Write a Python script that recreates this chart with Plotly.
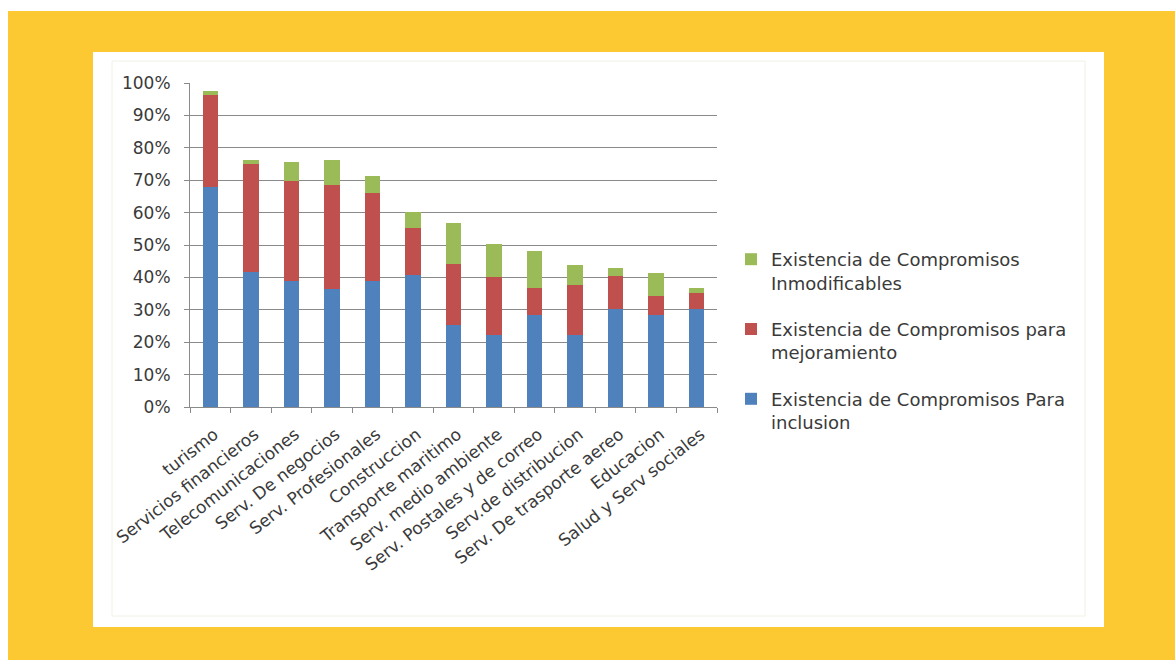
import plotly.graph_objects as go

# Sectors (x-axis categories)
categories = [
    "turismo", "Servicios financieros", "Telecomunicaciones", "Serv. De negocios",
    "Serv. Profesionales", "Construccion", "Transporte maritimo", "Serv. medio ambiente",
    "Serv. Postales y de correo", "Serv.de distribucion", "Serv. De trasporte aereo",
    "Educacion", "Salud y Serv sociales",
]

# Stacked shares (fractions of 1)
inclusion = [0.680, 0.418, 0.390, 0.363, 0.390, 0.407, 0.253, 0.222, 0.284, 0.222, 0.304, 0.284, 0.304]
mejoramiento = [0.284, 0.332, 0.308, 0.323, 0.272, 0.145, 0.188, 0.178, 0.084, 0.156, 0.100, 0.058, 0.049]
inmodificables = [0.012, 0.011, 0.057, 0.075, 0.051, 0.050, 0.126, 0.103, 0.114, 0.059, 0.026, 0.072, 0.013]

series_names = [
    "Existencia de Compromisos Para<br>inclusion",
    "Existencia de Compromisos para<br>mejoramiento",
    "Existencia de Compromisos<br>Inmodificables",
]
series_colors = ["#4F81BD", "#C0504D", "#9BBB59"]
legend_ranks = [3, 2, 1]  # top series listed first

W, H = 1175, 660
L, R, T, B = 190, 717, 83, 407  # plot area in pixels


def px_x(p):
    return (p - L) / (R - L)


def px_y(p):
    return (B - p) / (B - T)


FONT = "DejaVu Sans"
TXT = "#3a3a3a"
GRID = "#8a8a8a"

fig = go.Figure()
for name, vals, col, rank in zip(series_names, [inclusion, mejoramiento, inmodificables],
                                 series_colors, legend_ranks):
    fig.add_trace(go.Bar(
        x=categories, y=vals, name=name, marker=dict(color=col, line=dict(width=0)),
        legendgroup=name, legendrank=rank,
    ))

shapes = [
    # yellow frame
    dict(type="rect", xref="paper", yref="paper", layer="below",
         x0=px_x(8), x1=px_x(W + 5), y0=px_y(H + 5), y1=px_y(11),
         fillcolor="#FDC933", line=dict(width=0)),
    # white panel
    dict(type="rect", xref="paper", yref="paper", layer="below",
         x0=px_x(93), x1=px_x(1104), y0=px_y(627), y1=px_y(52),
         fillcolor="#FFFFFF", line=dict(width=0)),
    # chart area border
    dict(type="rect", xref="paper", yref="paper", layer="below",
         x0=px_x(112), x1=px_x(1085), y0=px_y(616), y1=px_y(61),
         fillcolor="rgba(0,0,0,0)", line=dict(width=1, color="#F1F1E8")),
]

fig.update_layout(
    width=W, height=H,
    margin=dict(l=L, r=W - R, t=T, b=H - B, pad=0),
    paper_bgcolor="#FFFFFF", plot_bgcolor="rgba(0,0,0,0)",
    barmode="stack", bargap=0.62,
    font=dict(family=FONT, size=17, color=TXT),
    shapes=shapes,
    showlegend=True,
    legend=dict(
        x=px_x(731), xanchor="left", y=px_y(241), yanchor="top",
        traceorder="grouped", tracegroupgap=20, valign="top",
        font=dict(family=FONT, size=18, color=TXT),
        bgcolor="rgba(0,0,0,0)",
    ),
    xaxis=dict(
        type="category", tickangle=-38, tickson="boundaries",
        ticks="outside", ticklen=5, tickcolor=GRID, showline=True, linecolor=GRID,
        showgrid=False, tickfont=dict(family=FONT, size=17, color=TXT),
        ticklabelshift=4, ticklabelstandoff=10,
    ),
    yaxis=dict(
        range=[0, 1], dtick=0.1, tickformat=".0%", showgrid=True, gridcolor=GRID,
        gridwidth=1, showline=True, linecolor=GRID, ticks="outside", ticklen=5,
        tickcolor=GRID, zeroline=False, ticklabelstandoff=10,
        tickfont=dict(family=FONT, size=17, color=TXT),
    ),
)

fig.write_html("out.html")
